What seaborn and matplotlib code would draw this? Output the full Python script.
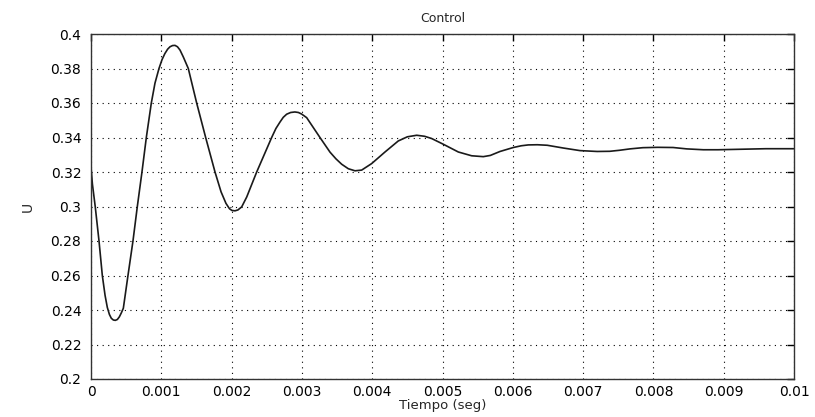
import matplotlib
matplotlib.use("Agg")
import matplotlib.pyplot as plt
import seaborn as sns
import pandas as pd
from matplotlib.ticker import FixedLocator, FixedFormatter

# --- data ---
tiempo = [0.0, 0.00002, 0.00006, 0.000114, 0.000161, 0.0002, 0.000232, 0.000262,
          0.000289, 0.000318, 0.000346, 0.000375, 0.000403, 0.00043, 0.00046,
          0.000526, 0.000597, 0.000659, 0.000725, 0.000787, 0.000858, 0.00091,
          0.000967, 0.00101, 0.00105, 0.00109, 0.001124, 0.00116, 0.001195,
          0.00123, 0.001266, 0.001313, 0.001384, 0.001503, 0.001631, 0.001764,
          0.00185, 0.00192, 0.00197, 0.002005, 0.002048, 0.00209, 0.002144,
          0.002215, 0.002357, 0.00257, 0.00263, 0.002689, 0.002735, 0.002783,
          0.00284, 0.0029, 0.00295, 0.002996, 0.003068, 0.003257, 0.0034,
          0.003485, 0.003566, 0.00366, 0.003755, 0.00385, 0.003993, 0.004182,
          0.004371, 0.0045, 0.004633, 0.004746, 0.004846, 0.005011, 0.005225,
          0.005415, 0.00558, 0.00568, 0.005818, 0.006007, 0.00612, 0.00622,
          0.00635, 0.00649, 0.006718, 0.006956, 0.0072, 0.00738, 0.00752,
          0.007667, 0.00785, 0.00806, 0.00828, 0.008474, 0.00871, 0.00892,
          0.009374, 0.0096, 0.01]
control_u = [0.323, 0.313, 0.300, 0.280, 0.260, 0.2485, 0.2415, 0.2374,
             0.2352, 0.2342, 0.234, 0.2345, 0.2360, 0.2382, 0.241,
             0.260, 0.280, 0.300, 0.320, 0.340, 0.360, 0.3715,
             0.380, 0.3851, 0.3886, 0.3912, 0.3926, 0.3933, 0.3934,
             0.3926, 0.3907, 0.3867, 0.380, 0.360, 0.340, 0.320,
             0.3085, 0.3018, 0.2987, 0.2977, 0.2975, 0.2980, 0.2998,
             0.3055, 0.320, 0.340, 0.3452, 0.3490, 0.3517, 0.3535,
             0.3545, 0.3548, 0.3545, 0.3536, 0.3515, 0.340, 0.3315,
             0.3276, 0.3245, 0.3219, 0.3207, 0.3211, 0.3249, 0.3316,
             0.3380, 0.3404, 0.3413, 0.3407, 0.3394, 0.3361, 0.3316,
             0.3294, 0.3289, 0.3296, 0.3319, 0.3342, 0.3352, 0.3357,
             0.3358, 0.3355, 0.3339, 0.3324, 0.3319, 0.3320, 0.3326,
             0.3334, 0.3341, 0.3343, 0.3342, 0.3334, 0.3329, 0.3329,
             0.3333, 0.3335, 0.3335]

x_ticks = [0.0, 0.001, 0.002, 0.003, 0.004, 0.005, 0.006, 0.007, 0.008, 0.009, 0.01]
x_tick_labels = ["0", "0.001", "0.002", "0.003", "0.004", "0.005", "0.006",
                 "0.007", "0.008", "0.009", "0.01"]
y_ticks = [0.2, 0.22, 0.24, 0.26, 0.28, 0.3, 0.32, 0.34, 0.36, 0.38, 0.4]
y_tick_labels = ["0.2", "0.22", "0.24", "0.26", "0.28", "0.3", "0.32", "0.34",
                 "0.36", "0.38", "0.4"]

title_text = "Control"
x_label = "Tiempo (seg)"
y_label = "U"

sns.set_style("white")
plt.rcParams["font.family"] = ["DejaVu Sans"]

df = pd.DataFrame({"t": tiempo, "u": control_u})

fig = plt.figure(figsize=(8.15, 4.17), dpi=100)
ax = fig.add_axes([91 / 815, 1 - 379 / 417, (794 - 91) / 815, (379 - 34) / 417])

sns.lineplot(data=df, x="t", y="u", ax=ax, color="#1a1a1a", linewidth=1.2,
             sort=False, estimator=None)

ax.set_xlim(0, 0.01)
ax.set_ylim(0.2, 0.4)
ax.xaxis.set_major_locator(FixedLocator(x_ticks))
ax.xaxis.set_major_formatter(FixedFormatter(x_tick_labels))
ax.yaxis.set_major_locator(FixedLocator(y_ticks))
ax.yaxis.set_major_formatter(FixedFormatter(y_tick_labels))

ax.grid(True, color="black", linestyle=(0, (1, 4)), linewidth=0.8)
ax.tick_params(direction="in", length=5, width=1, top=True, right=True,
               labelsize=10, colors="black", pad=4)
ax.tick_params(axis="y", pad=7)
for s in ax.spines.values():
    s.set_color("#333333")
    s.set_linewidth(1.0)

ax.set_title(title_text, fontsize=9, pad=9)
ax.set_xlabel(x_label, fontsize=9.5, labelpad=0)
ax.set_ylabel(y_label, fontsize=10)
ax.yaxis.set_label_coords(-0.08, 0.5)

fig.savefig("out.png", dpi=100, facecolor="white")
